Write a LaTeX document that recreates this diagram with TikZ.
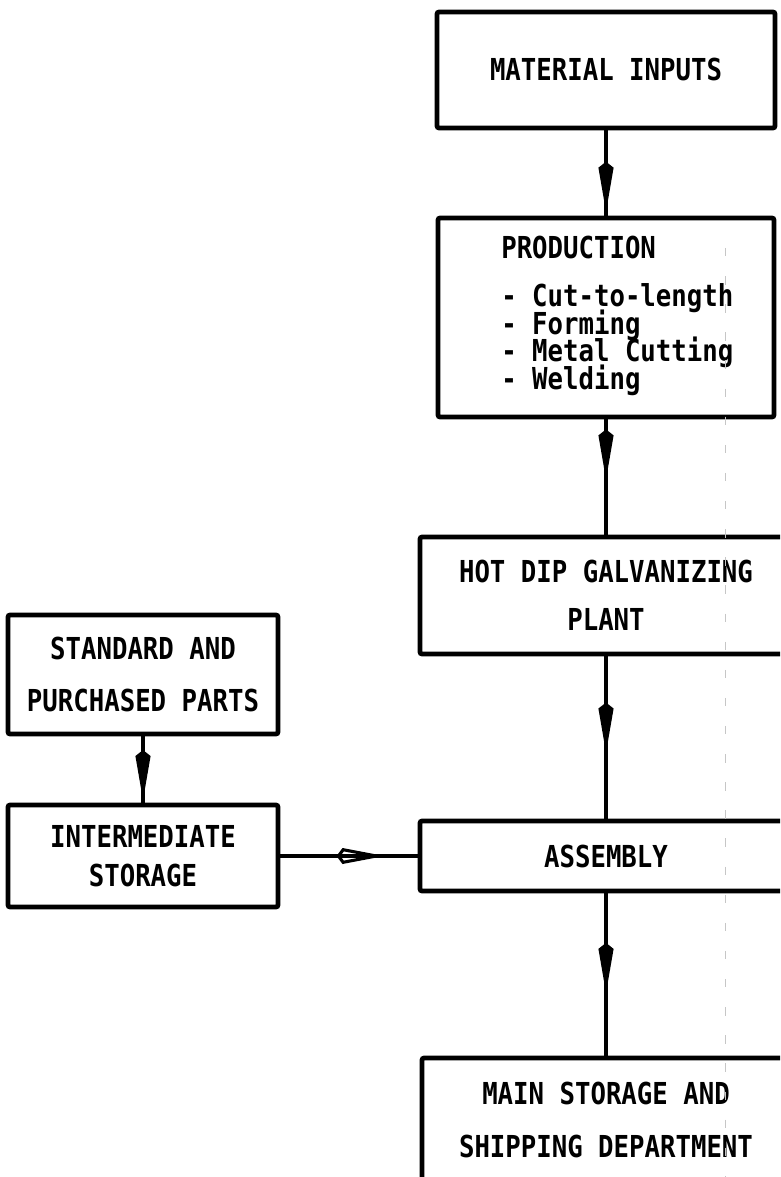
\documentclass[tikz,border=0pt]{standalone}
\usepackage{fontspec}
\setmainfont{DejaVu Sans Mono}[FakeStretch=0.85]
\usepackage{tikz}
\usetikzlibrary{positioning,arrows.meta,decorations.markings}
\setlength{\lineskiplimit}{-30pt}

\begin{document}
\begin{tikzpicture}[font=\fontsize{21.5}{19.6}\selectfont\bfseries,
  box/.style={draw, line width=3.4pt, rounded corners=1.5pt, outer sep=0pt, inner sep=0pt, align=center},
  link/.style={line width=2.6pt},
  midarr/.style={link, postaction={decorate}, decoration={markings,
    mark=at position #1 with {\arrow{Kite[length=1.25cm, width=0.38cm, inset=0.15cm]}}}},
  sidearr/.style={link, postaction={decorate}, decoration={markings,
    mark=at position #1 with {\arrow{Kite[open, line width=2.2pt, length=1.2cm, width=0.4cm, inset=0.15cm]}}}},
  scanline/.style={gray!45, line width=0.6pt, dash pattern=on 6pt off 14pt}]
\clip (0,0) rectangle (19.5,-29.425);
\node[box, minimum width=8.45cm, minimum height=2.9cm] (mat) at (15.15,-1.75) {MATERIAL INPUTS};
\node[box, minimum width=8.4cm, minimum height=4.975cm, below=2.25cm of mat] (prod) {};
\node[anchor=north west, align=left, inner sep=0pt] (prodlist) at ([xshift=1.575cm, yshift=-0.45cm]prod.north west)
  {PRODUCTION\\[0.51cm]- Cut-to-length\\- Forming\\- Metal Cutting\\- Welding};
\node[box, minimum width=9.3cm, minimum height=2.925cm, below=3cm of prod] (galv) {HOT DIP GALVANIZING\\[0.51cm]PLANT};
\node[box, minimum width=9.3cm, minimum height=1.75cm, below=4.175cm of galv] (asm) {ASSEMBLY};
\node[box, minimum width=9.2cm, minimum height=3.1cm, below=4.175cm of asm] (main) {MAIN STORAGE AND\\[0.66cm]SHIPPING DEPARTMENT};
\node[box, minimum width=6.75cm, minimum height=2.55cm, left=3.55cm of asm] (inter) {INTERMEDIATE\\[0.285cm]STORAGE};
\node[box, minimum width=6.75cm, minimum height=2.975cm, above=1.775cm of inter] (std) {STANDARD AND\\[0.635cm]PURCHASED PARTS};
% flow lines
\draw[midarr=0.93] (mat) -- (prod);
\draw[midarr=0.52] (prod) -- (galv);
\draw[midarr=0.59] (galv) -- (asm);
\draw[midarr=0.61] (asm) -- (main);
\draw[midarr=0.93] (std) -- (inter);
\draw[sidearr=0.75] (inter) -- (asm);
% faint fold line of the scan
\draw[scanline] (18.125,-6.2) -- (18.125,-29.425);
\end{tikzpicture}
\end{document}
